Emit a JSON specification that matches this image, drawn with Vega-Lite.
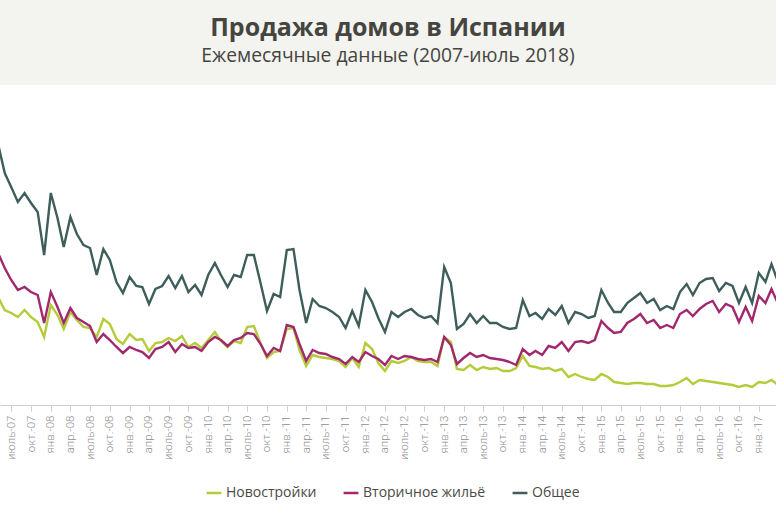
{
  "$schema": "https://vega.github.io/schema/vega-lite/v6.json",
  "padding": 0,
  "background": "white",
  "spacing": 0,
  "config": {"view": {"stroke": null}, "font": "Open Sans"},
  "vconcat": [
    {
      "width": 776,
      "height": 85,
      "view": {"fill": "#f3f3ef", "stroke": null},
      "title": {
        "text": "Продажа домов в Испании",
        "subtitle": "Ежемесячные данные (2007-июль 2018)",
        "anchor": "middle",
        "offset": -66,
        "font": "Open Sans",
        "fontSize": 25,
        "fontWeight": "bold",
        "color": "#45453f",
        "subtitleFont": "Open Sans",
        "subtitleFontSize": 19.3,
        "subtitleFontWeight": 500,
        "subtitleColor": "#45453f",
        "subtitlePadding": 6
      },
      "data": {"values": [{}]},
      "mark": {"type": "point", "opacity": 0},
      "encoding": {}
    },
    {
      "width": 776,
      "height": 320,
      "data": {"values": [
        {"d":"2007-05-01","n":108,"u":152,"t":261},
        {"d":"2007-06-01","n":95,"u":137,"t":232},
        {"d":"2007-07-01","n":92,"u":125,"t":218},
        {"d":"2007-08-01","n":88,"u":115,"t":203},
        {"d":"2007-09-01","n":95,"u":118,"t":212},
        {"d":"2007-10-01","n":88,"u":113,"t":202},
        {"d":"2007-11-01","n":83,"u":110,"t":193},
        {"d":"2007-12-01","n":68,"u":82,"t":150},
        {"d":"2008-01-01","n":100,"u":113,"t":212},
        {"d":"2008-02-01","n":90,"u":98,"t":187},
        {"d":"2008-03-01","n":76,"u":82,"t":158},
        {"d":"2008-04-01","n":93,"u":97,"t":188},
        {"d":"2008-05-01","n":85,"u":87,"t":171},
        {"d":"2008-06-01","n":78,"u":83,"t":160},
        {"d":"2008-07-01","n":77,"u":79,"t":157},
        {"d":"2008-08-01","n":68,"u":63,"t":130},
        {"d":"2008-09-01","n":86,"u":71,"t":156},
        {"d":"2008-10-01","n":81,"u":65,"t":145},
        {"d":"2008-11-01","n":66,"u":58,"t":123},
        {"d":"2008-12-01","n":61,"u":52,"t":112},
        {"d":"2009-01-01","n":71,"u":58,"t":128},
        {"d":"2009-02-01","n":65,"u":55,"t":119},
        {"d":"2009-03-01","n":66,"u":53,"t":118},
        {"d":"2009-04-01","n":54,"u":47,"t":101},
        {"d":"2009-05-01","n":62,"u":56,"t":116},
        {"d":"2009-06-01","n":63,"u":58,"t":119},
        {"d":"2009-07-01","n":67,"u":63,"t":129},
        {"d":"2009-08-01","n":64,"u":53,"t":117},
        {"d":"2009-09-01","n":69,"u":61,"t":129},
        {"d":"2009-10-01","n":58,"u":57,"t":113},
        {"d":"2009-11-01","n":62,"u":58,"t":120},
        {"d":"2009-12-01","n":57,"u":54,"t":110},
        {"d":"2010-01-01","n":65,"u":63,"t":130},
        {"d":"2010-02-01","n":73,"u":68,"t":142},
        {"d":"2010-03-01","n":64,"u":65,"t":130},
        {"d":"2010-04-01","n":58,"u":59,"t":118},
        {"d":"2010-05-01","n":64,"u":65,"t":130},
        {"d":"2010-06-01","n":62,"u":67,"t":128},
        {"d":"2010-07-01","n":78,"u":72,"t":150},
        {"d":"2010-08-01","n":79,"u":71,"t":150},
        {"d":"2010-09-01","n":62,"u":61,"t":122},
        {"d":"2010-10-01","n":47,"u":49,"t":94},
        {"d":"2010-11-01","n":53,"u":57,"t":111},
        {"d":"2010-12-01","n":54,"u":54,"t":108},
        {"d":"2011-01-01","n":76,"u":80,"t":155},
        {"d":"2011-02-01","n":77,"u":78,"t":156},
        {"d":"2011-03-01","n":55,"u":61,"t":115},
        {"d":"2011-04-01","n":39,"u":44,"t":82},
        {"d":"2011-05-01","n":50,"u":55,"t":106},
        {"d":"2011-06-01","n":48,"u":52,"t":99},
        {"d":"2011-07-01","n":47,"u":51,"t":97},
        {"d":"2011-08-01","n":46,"u":48,"t":93},
        {"d":"2011-09-01","n":44,"u":46,"t":88},
        {"d":"2011-10-01","n":38,"u":41,"t":77},
        {"d":"2011-11-01","n":47,"u":48,"t":94},
        {"d":"2011-12-01","n":38,"u":43,"t":79},
        {"d":"2012-01-01","n":62,"u":53,"t":115},
        {"d":"2012-02-01","n":56,"u":49,"t":103},
        {"d":"2012-03-01","n":42,"u":46,"t":87},
        {"d":"2012-04-01","n":34,"u":40,"t":73},
        {"d":"2012-05-01","n":44,"u":49,"t":93},
        {"d":"2012-06-01","n":42,"u":46,"t":88},
        {"d":"2012-07-01","n":44,"u":49,"t":93},
        {"d":"2012-08-01","n":48,"u":48,"t":96},
        {"d":"2012-09-01","n":44,"u":46,"t":90},
        {"d":"2012-10-01","n":43,"u":45,"t":87},
        {"d":"2012-11-01","n":43,"u":46,"t":89},
        {"d":"2012-12-01","n":39,"u":43,"t":82},
        {"d":"2013-01-01","n":68,"u":68,"t":138},
        {"d":"2013-02-01","n":63,"u":60,"t":122},
        {"d":"2013-03-01","n":36,"u":41,"t":76},
        {"d":"2013-04-01","n":35,"u":47,"t":81},
        {"d":"2013-05-01","n":40,"u":52,"t":91},
        {"d":"2013-06-01","n":35,"u":48,"t":82},
        {"d":"2013-07-01","n":38,"u":50,"t":89},
        {"d":"2013-08-01","n":36,"u":47,"t":82},
        {"d":"2013-09-01","n":37,"u":46,"t":82},
        {"d":"2013-10-01","n":34,"u":45,"t":78},
        {"d":"2013-11-01","n":34,"u":43,"t":76},
        {"d":"2013-12-01","n":37,"u":40,"t":77},
        {"d":"2014-01-01","n":49,"u":56,"t":105},
        {"d":"2014-02-01","n":39,"u":50,"t":89},
        {"d":"2014-03-01","n":38,"u":54,"t":92},
        {"d":"2014-04-01","n":36,"u":50,"t":86},
        {"d":"2014-05-01","n":37,"u":59,"t":96},
        {"d":"2014-06-01","n":34,"u":57,"t":90},
        {"d":"2014-07-01","n":36,"u":63,"t":99},
        {"d":"2014-08-01","n":28,"u":54,"t":82},
        {"d":"2014-09-01","n":31,"u":63,"t":93},
        {"d":"2014-10-01","n":28,"u":64,"t":91},
        {"d":"2014-11-01","n":26,"u":62,"t":87},
        {"d":"2014-12-01","n":25,"u":65,"t":89},
        {"d":"2015-01-01","n":31,"u":84,"t":115},
        {"d":"2015-02-01","n":28,"u":77,"t":102},
        {"d":"2015-03-01","n":23,"u":72,"t":93},
        {"d":"2015-04-01","n":22,"u":73,"t":93},
        {"d":"2015-05-01","n":21,"u":82,"t":102},
        {"d":"2015-06-01","n":22,"u":86,"t":107},
        {"d":"2015-07-01","n":22,"u":91,"t":112},
        {"d":"2015-08-01","n":21,"u":82,"t":102},
        {"d":"2015-09-01","n":21,"u":85,"t":106},
        {"d":"2015-10-01","n":19,"u":77,"t":95},
        {"d":"2015-11-01","n":19,"u":80,"t":99},
        {"d":"2015-12-01","n":20,"u":77,"t":96},
        {"d":"2016-01-01","n":23,"u":91,"t":113},
        {"d":"2016-02-01","n":27,"u":95,"t":121},
        {"d":"2016-03-01","n":21,"u":89,"t":110},
        {"d":"2016-04-01","n":25,"u":96,"t":122},
        {"d":"2016-05-01","n":24,"u":101,"t":126},
        {"d":"2016-06-01","n":23,"u":104,"t":127},
        {"d":"2016-07-01","n":22,"u":93,"t":114},
        {"d":"2016-08-01","n":21,"u":101,"t":122},
        {"d":"2016-09-01","n":20,"u":98,"t":119},
        {"d":"2016-10-01","n":18,"u":83,"t":102},
        {"d":"2016-11-01","n":20,"u":98,"t":118},
        {"d":"2016-12-01","n":18,"u":84,"t":102},
        {"d":"2017-01-01","n":23,"u":109,"t":132},
        {"d":"2017-02-01","n":22,"u":102,"t":123},
        {"d":"2017-03-01","n":25,"u":116,"t":141},
        {"d":"2017-04-01","n":20,"u":101,"t":123}
      ]},
      "encoding": {
        "x": {
          "field": "d",
          "type": "temporal",
          "scale": {
            "type": "utc",
            "domain": [
              {"year": 2007, "month": 5, "date": 10, "utc": true},
              {"year": 2017, "month": 3, "date": 22, "utc": true}
            ],
            "nice": false
          },
          "axis": {
            "title": null,
            "grid": false,
            "tickCount": {"interval": "month", "step": 3},
            "labelExpr": "['янв.','февр.','март','апр.','май','июнь','июль','авг.','сент.','окт.','нояб.','дек.'][utcmonth(datum.value)] + '-' + utcFormat(datum.value, '%y')",
            "labelAngle": 270,
            "labelFont": "Roboto",
            "labelFontWeight": 300,
            "labelFontSize": 11.5,
            "labelColor": "#8f8f8f",
            "labelPadding": 4,
            "labelOverlap": false,
            "labelFlush": false,
            "labelBound": false,
            "domainColor": "#d0d0d0",
            "tickColor": "#d0d0d0",
            "tickSize": 6
          }
        }
      },
      "layer": [
        {
          "mark": {"type": "line", "strokeWidth": 2.4, "clip": true},
          "encoding": {
            "y": {"field": "n", "type": "quantitative", "scale": {"domain": [0, 320], "nice": false}, "axis": null},
            "color": {
              "datum": "Новостройки",
              "type": "nominal",
              "scale": {
                "domain": ["Новостройки", "Вторичное жильё", "Общее"],
                "range": ["#b5cb3a", "#a2286e", "#3e5e5b"]
              },
              "legend": {
                "orient": "none",
                "legendX": 205,
                "legendY": 484,
                "direction": "horizontal",
                "title": null,
                "symbolType": "stroke",
                "symbolStrokeWidth": 2.5,
                "symbolSize": 220,
                "labelFont": "Open Sans",
                "labelFontSize": 14,
                "labelColor": "#4a4a45",
                "columnPadding": 21,
                "labelOffset": 3
              }
            }
          }
        },
        {
          "mark": {"type": "line", "strokeWidth": 2.4, "clip": true},
          "encoding": {
            "y": {"field": "u", "type": "quantitative"},
            "color": {"datum": "Вторичное жильё", "type": "nominal"}
          }
        },
        {
          "mark": {"type": "line", "strokeWidth": 2.4, "clip": true},
          "encoding": {
            "y": {"field": "t", "type": "quantitative"},
            "color": {"datum": "Общее", "type": "nominal"}
          }
        }
      ]
    }
  ]
}
